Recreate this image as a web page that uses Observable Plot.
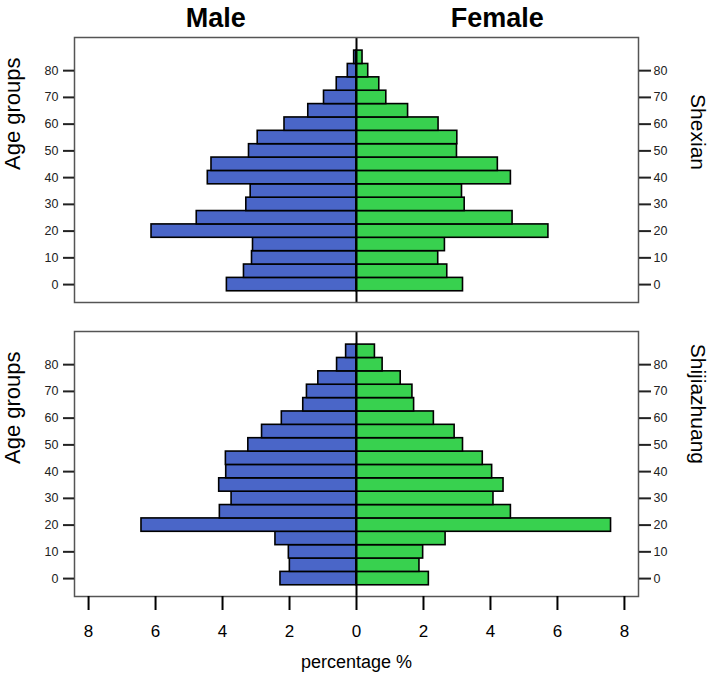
<!DOCTYPE html>
<html>
<head>
<meta charset="utf-8">
<script src="https://cdn.jsdelivr.net/npm/d3@7"></script>
<script src="https://cdn.jsdelivr.net/npm/@observablehq/plot@0.6"></script>
<style>
  html, body { margin: 0; padding: 0; background: #fff; }
</style>
</head>
<body>
<div id="chart"></div>
<script>
const regions = ["Shexian", "Shijiazhuang"];
const sexes = ["Male", "Female"];
const ageGroups = [0, 5, 10, 15, 20, 25, 30, 35, 40, 45, 50, 55, 60, 65, 70, 75, 80, 85];
const yTicks = [0, 10, 20, 30, 40, 50, 60, 70, 80];
const xTicks = [-8, -6, -4, -2, 0, 2, 4, 6, 8];

const shexianMale   = [3.87, 3.36, 3.12, 3.09, 6.12, 4.77, 3.29, 3.16, 4.44, 4.33, 3.21, 2.95, 2.15, 1.44, 0.97, 0.59, 0.26, 0.07];
const shexianFemale = [3.18, 2.71, 2.44, 2.64, 5.73, 4.66, 3.23, 3.15, 4.61, 4.22, 3.00, 3.01, 2.45, 1.54, 0.89, 0.68, 0.35, 0.18];
const shijiazhuangMale   = [2.27, 1.99, 2.02, 2.42, 6.42, 4.08, 3.73, 4.10, 3.89, 3.90, 3.23, 2.82, 2.23, 1.59, 1.48, 1.14, 0.58, 0.31];
const shijiazhuangFemale = [2.16, 1.88, 1.99, 2.66, 7.60, 4.61, 4.09, 4.39, 4.05, 3.77, 3.18, 2.93, 2.31, 1.72, 1.67, 1.32, 0.78, 0.55];

const series = [
  {region: "Shexian", sex: "Male", values: shexianMale},
  {region: "Shexian", sex: "Female", values: shexianFemale},
  {region: "Shijiazhuang", sex: "Male", values: shijiazhuangMale},
  {region: "Shijiazhuang", sex: "Female", values: shijiazhuangFemale}
];
const rows = series.flatMap(s => s.values.map((v, i) => ({
  region: s.region, sex: s.sex, age: ageGroups[i],
  value: s.sex === "Male" ? -v : v
})));

const titles = [
  {fy: "Shexian", x: -4.2, t: "Male"},
  {fy: "Shexian", x: 4.2, t: "Female"}
];

const chart = Plot.plot({
  width: 709,
  height: 678,
  marginLeft: 74,
  marginRight: 71,
  marginTop: 36,
  marginBottom: 81,
  style: {fontFamily: "'Liberation Sans', Arial, sans-serif", background: "#fff"},
  x: {domain: [-8.42, 8.42], axis: null},
  y: {domain: [-6.7, 92.4], axis: null},
  fy: {domain: regions, paddingInner: 0.0983, paddingOuter: 0, axis: null},
  color: {domain: sexes, range: ["#4a66c8", "#38d14f"]},
  marks: [
    Plot.rect(rows, {
      fy: "region",
      x1: () => 0, x2: "value",
      y1: d => d.age - 2.5, y2: d => d.age + 2.5,
      fill: "sex", stroke: "#000", strokeWidth: 1.6
    }),
    Plot.ruleX([0], {stroke: "#000", strokeWidth: 2}),
    Plot.frame({stroke: "#555", strokeWidth: 1.5}),
    Plot.axisY({anchor: "left", ticks: yTicks, tickSize: 11, tickPadding: 5, fontSize: 12.5, strokeWidth: 2, color: "#222", label: null}),
    Plot.axisY({anchor: "right", ticks: yTicks, tickSize: 12, tickPadding: 3, fontSize: 12.5, strokeWidth: 2, color: "#222", label: null}),
    Plot.axisX({anchor: "bottom", ticks: xTicks, tickFormat: d => Math.abs(d), tickSize: 14, tickPadding: 14, fontSize: 17, strokeWidth: 2, label: null}),
    Plot.text(titles, {fy: "fy", x: "x", text: "t", frameAnchor: "top", lineAnchor: "middle", dy: -19, fontSize: 27, fontWeight: "bold"}),
    Plot.text(regions, {fy: d => d, text: () => "Age groups", frameAnchor: "left", dx: -62, rotate: -90, fontSize: 22}),
    Plot.text(regions, {fy: d => d, text: d => d, frameAnchor: "right", dx: 59, rotate: 90, fontSize: 21}),
    Plot.text(["percentage %"], {fy: () => "Shijiazhuang", text: d => d, frameAnchor: "bottom", lineAnchor: "middle", dy: 66, fontSize: 18})
  ]
});
document.getElementById("chart").appendChild(chart);
</script>
</body>
</html>
